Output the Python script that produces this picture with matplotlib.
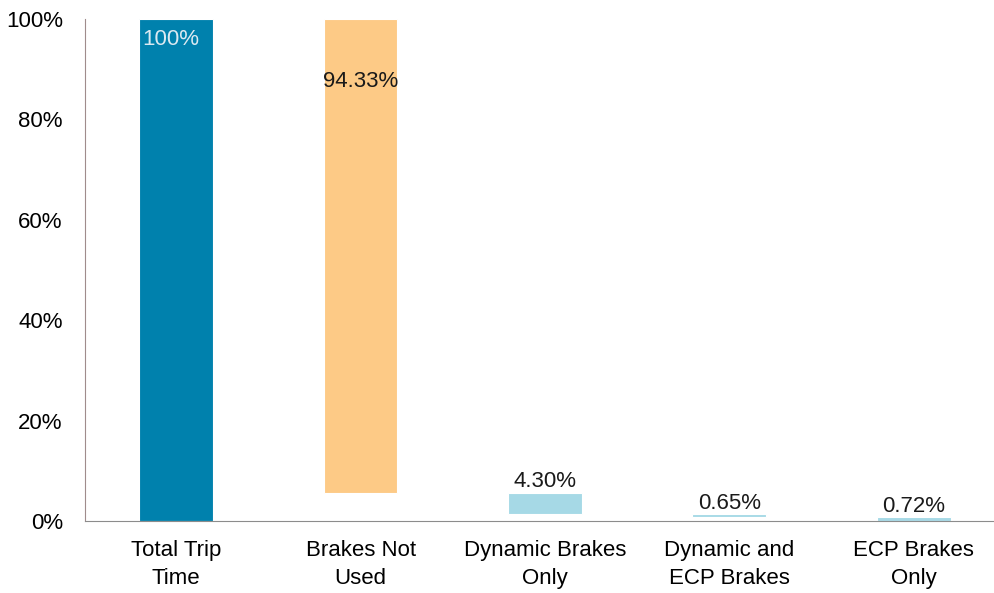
import numpy as np
import matplotlib.pyplot as plt

plt.rcParams['font.family'] = ['Liberation Sans', 'DejaVu Sans']

categories = ['Total Trip\nTime', 'Brakes Not\nUsed', 'Dynamic Brakes\nOnly',
              'Dynamic and\nECP Brakes', 'ECP Brakes\nOnly']
values = [100, 94.33, 4.30, 0.65, 0.72]
labels = ['100%', '94.33%', '4.30%', '0.65%', '0.72%']
colors = ['#0081ad', '#fdca86', '#a6d9e6', '#a6d9e6', '#a6d9e6']

# waterfall: first bar is the total, the rest hang down from it
bottoms = [0] + list(100 - np.cumsum(values[1:]))

fig = plt.figure(figsize=(9.95, 5.93), dpi=100)
ax = fig.add_axes([85/995, 1 - 521/593, 908/995, 502/593])

x = np.arange(len(categories))
ax.bar(x, values, bottom=bottoms, width=0.4, color=colors, edgecolor='white', linewidth=0.8)

# value labels
ax.text(x[0] - 0.03, 96.0, labels[0], ha='center', va='center', fontsize=16, color='#dbe9f1')
ax.text(x[1], 87.5, labels[1], ha='center', va='center', fontsize=16, color='#1a1a1a')
for i in range(2, 5):
    ax.annotate(labels[i], (x[i], bottoms[i] + values[i]), xytext=(0, 4),
                textcoords='offset points', ha='center', va='baseline',
                fontsize=16, color='#1a1a1a')

ax.set_xlim(-0.495, 4.43)
ax.set_ylim(0, 100)
ax.set_yticks([0, 20, 40, 60, 80, 100])
ax.set_yticklabels(['0%', '20%', '40%', '60%', '80%', '100%'], fontsize=16)
ax.set_xticks(x)
ax.set_xticklabels(categories, fontsize=16, linespacing=1.38)
ax.tick_params(length=0)
ax.tick_params(axis='y', pad=16)
ax.tick_params(axis='x', pad=14)

ax.spines['top'].set_visible(False)
ax.spines['right'].set_visible(False)
ax.spines['left'].set_color('#a08c8c')
ax.spines['bottom'].set_color('#8c8c8c')

plt.savefig('out.png', dpi=100)
